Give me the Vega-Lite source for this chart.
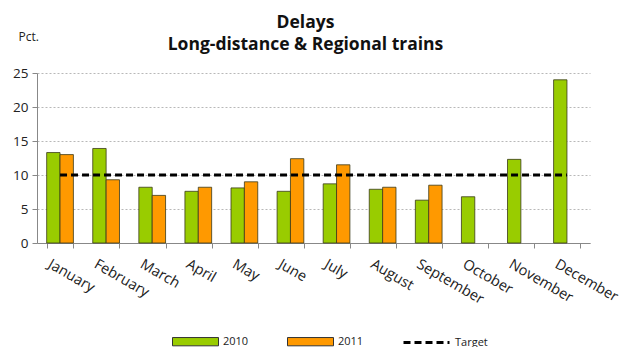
{
  "$schema": "https://vega.github.io/schema/vega-lite/v6.json",
  "width": 553,
  "height": 170,
  "autosize": {"type": "none"},
  "padding": {"left": 37, "top": 73, "right": 36, "bottom": 104},
  "background": "white",
  "config": {
    "font": "Open Sans",
    "view": {"stroke": null},
    "axis": {"labelFont": "Open Sans", "titleFont": "Open Sans"}
  },
  "title": {
    "text": ["Delays", "Long-distance & Regional trains"],
    "fontSize": 17.5,
    "fontWeight": "bold",
    "font": "Open Sans",
    "color": "#111",
    "anchor": "middle",
    "dx": -8,
    "offset": -23,
    "lineHeight": 22
  },
  "datasets": {
    "bars": [
      {"month": "January", "year": "2010", "value": 13.3},
      {"month": "January", "year": "2011", "value": 13.0},
      {"month": "February", "year": "2010", "value": 13.9},
      {"month": "February", "year": "2011", "value": 9.3},
      {"month": "March", "year": "2010", "value": 8.2},
      {"month": "March", "year": "2011", "value": 7.0},
      {"month": "April", "year": "2010", "value": 7.6},
      {"month": "April", "year": "2011", "value": 8.2},
      {"month": "May", "year": "2010", "value": 8.1},
      {"month": "May", "year": "2011", "value": 9.0},
      {"month": "June", "year": "2010", "value": 7.6},
      {"month": "June", "year": "2011", "value": 12.4},
      {"month": "July", "year": "2010", "value": 8.7},
      {"month": "July", "year": "2011", "value": 11.5},
      {"month": "August", "year": "2010", "value": 7.9},
      {"month": "August", "year": "2011", "value": 8.2},
      {"month": "September", "year": "2010", "value": 6.3},
      {"month": "September", "year": "2011", "value": 8.5},
      {"month": "October", "year": "2010", "value": 6.8},
      {"month": "November", "year": "2010", "value": 12.3},
      {"month": "December", "year": "2010", "value": 24.0}
    ],
    "target": [
      {"month": "January", "series": "Target", "value": 10},
      {"month": "February", "series": "Target", "value": 10},
      {"month": "March", "series": "Target", "value": 10},
      {"month": "April", "series": "Target", "value": 10},
      {"month": "May", "series": "Target", "value": 10},
      {"month": "June", "series": "Target", "value": 10},
      {"month": "July", "series": "Target", "value": 10},
      {"month": "August", "series": "Target", "value": 10},
      {"month": "September", "series": "Target", "value": 10},
      {"month": "October", "series": "Target", "value": 10},
      {"month": "November", "series": "Target", "value": 10},
      {"month": "December", "series": "Target", "value": 10}
    ]
  },
  "encoding": {
    "x": {
      "field": "month",
      "type": "nominal",
      "sort": ["January","February","March","April","May","June","July","August","September","October","November","December"],
      "scale": {"paddingInner": 0.42, "paddingOuter": 0.21},
      "axis": {
        "title": null,
        "tickBand": "extent",
        "labelAngle": 30,
        "labelAlign": "left",
        "labelBaseline": "top",
        "labelOffset": -8,
        "labelPadding": 9,
        "labelFontSize": 14.5,
        "labelColor": "#222",
        "labelOverlap": false,
        "domainColor": "#888",
        "tickColor": "#888",
        "tickSize": 5,
        "grid": false
      }
    },
    "y": {
      "field": "value",
      "type": "quantitative",
      "scale": {"domain": [0, 25], "nice": false},
      "axis": {
        "title": "Pct.",
        "titleAngle": 0,
        "titleX": -19,
        "titleY": -30,
        "titleAlign": "left",
        "titleBaseline": "bottom",
        "titleFontWeight": "normal",
        "titleFontSize": 12,
        "titleColor": "#222",
        "values": [0, 5, 10, 15, 20, 25],
        "labelOverlap": false,
        "labelFontSize": 13.5,
        "labelColor": "#222",
        "labelPadding": 4,
        "domainColor": "#888",
        "tickColor": "#888",
        "tickSize": 5,
        "grid": true,
        "gridColor": "#b8b8b8",
        "gridDash": [2, 2],
        "gridWidth": 1
      }
    }
  },
  "layer": [
    {
      "data": {"name": "bars"},
      "mark": {"type": "bar", "stroke": "#3a3a1a", "strokeWidth": 0.8},
      "encoding": {
        "xOffset": {"field": "year", "type": "nominal"},
        "color": {
          "field": "year",
          "type": "nominal",
          "scale": {"domain": ["2010", "2011"], "range": ["#99cc00", "#ff9900"]},
          "legend": {
            "title": null,
            "orient": "none",
            "legendX": 135,
            "legendY": 245,
            "direction": "horizontal",
            "symbolType": "M-1,-0.18H1V0.18H-1Z",
            "symbolSize": 2116,
            "symbolStrokeColor": "#333",
            "symbolStrokeWidth": 1,
            "labelFontSize": 11,
            "labelColor": "#222",
            "columnPadding": 36,
            "labelOffset": 4
          }
        }
      }
    },
    {
      "data": {"name": "target"},
      "mark": {"type": "line", "color": "black", "strokeWidth": 3},
      "encoding": {
        "strokeDash": {
          "field": "series",
          "type": "nominal",
          "scale": {"domain": ["Target"], "range": [[7, 4]]},
          "legend": {
            "title": null,
            "orient": "none",
            "legendX": 365,
            "legendY": 245,
            "symbolType": "stroke",
            "symbolSize": 2116,
            "symbolStrokeColor": "black",
            "symbolStrokeWidth": 3,
            "labelFontSize": 11,
            "labelColor": "#222",
            "labelOffset": 4
          }
        }
      }
    }
  ]
}
